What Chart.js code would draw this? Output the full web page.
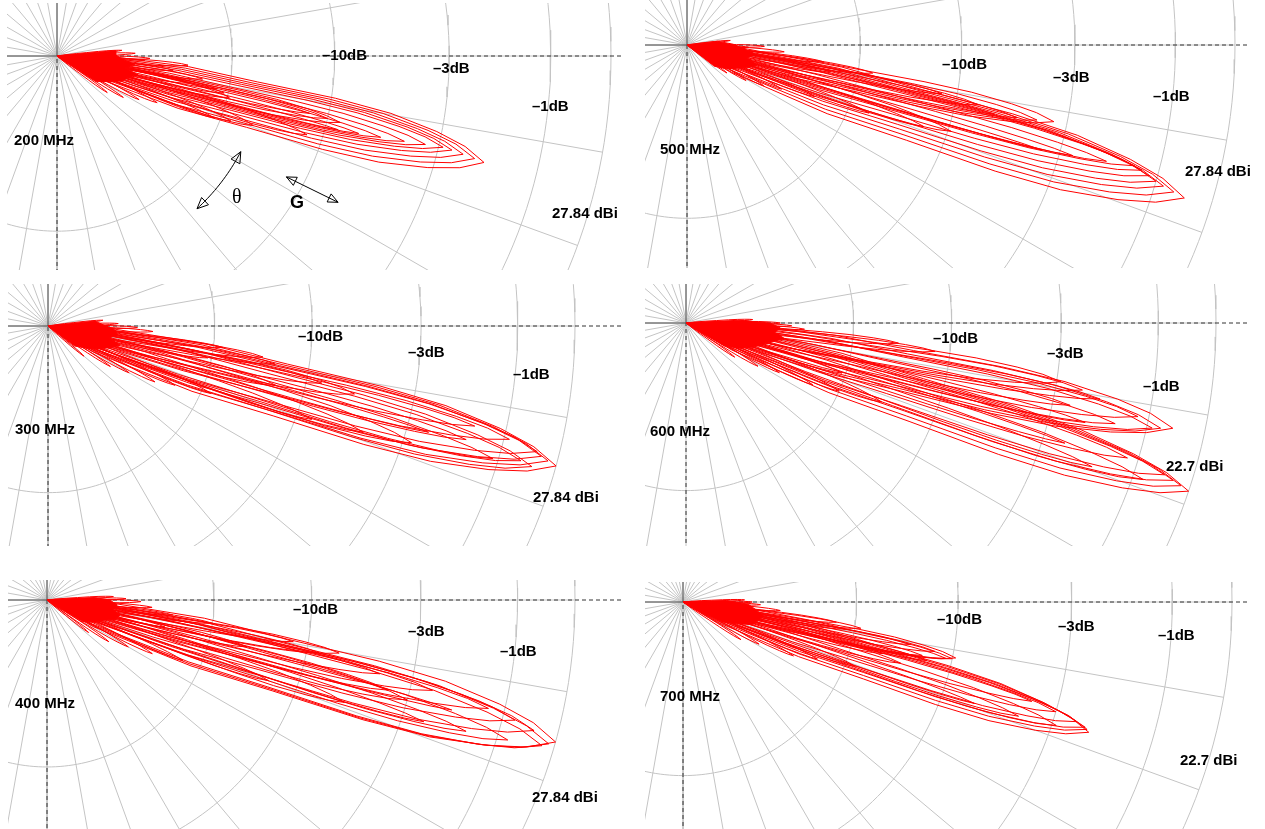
<!DOCTYPE html>
<html><head><meta charset="utf-8">
<script src="https://cdn.jsdelivr.net/npm/chart.js@4/dist/chart.umd.min.js"></script>
<style>
html,body{margin:0;padding:0;background:#fff;}
#wrap{position:relative;width:1265px;height:829px;overflow:hidden;background:#fff;}
#wrap canvas{position:absolute;}
.lbl{position:absolute;font-family:"Liberation Sans",Arial,sans-serif;font-weight:bold;font-size:15px;line-height:15px;color:#000;white-space:nowrap;}
.theta{position:absolute;font-family:"Liberation Serif","DejaVu Serif",serif;font-size:20px;line-height:20px;color:#000;}
.gsym{position:absolute;font-family:"Liberation Sans",Arial,sans-serif;font-weight:bold;font-size:18px;line-height:18px;color:#000;}
</style></head><body><div id="wrap"></div>
<script>
// ---------------- DATA ----------------
const frequencyLabels = ['200 MHz','500 MHz','300 MHz','600 MHz','400 MHz','700 MHz'];
const ringLevelsDb = [-10, -6, -3, -1, 0];
const ringLabelTexts = ['\u201310dB', '\u20133dB', '\u20131dB'];
const maxGainLabels = ['27.84 dBi','27.84 dBi','27.84 dBi','22.7 dBi','27.84 dBi','22.7 dBi'];
const spokeAnglesDeg = [0,10,20,30,40,50,60,70,80,90,100,110,120,130,140,150,160,170,180,190,200,210,220,230,240,250,260,270,280,290,300,310,320,330,340,350];

// lobe template: fraction of lobe peak vs. angular half width (deg, for width 1)
const lobeFrac = [0.1, 0.3, 0.46, 0.64, 0.77, 0.88, 0.95, 1.0];
const lobeHalfWidthDeg = [12, 7.5, 5.3, 4.3, 3.4, 2.2, 1.2, 0];

// per frequency: lobe direction (deg below horizon), peak (dB rel. outer ring), relative width
const lobes200Dir = [14.0,13.8,13.6,13.4,13.3,13.5,13.8,14.1,14.4,14.7, 13.2,13.0,12.8, 13.5,12.5,11.6, 19.5,20.5,21.5,17.5, 4.0,11.6,7.0,9.0, -5.0,-2.0,1.5,25.0,28.0,32.0,36.0,3.0];
const lobes200Db  = [-2.0,-2.2,-2.45,-2.7,-2.9,-3.3,-3.8,-4.4,-5.0,-5.6, -5.6,-6.0,-6.6, -9.9,-10.2,-10.6, -8.5,-9.5,-10.3,-6.5, -12.5,-12.3,-13.5,-11.5, -18.6,-17.0,-15.5,-14.0,-15.5,-17.0,-19.0,-16.0];
const lobes200W   = [1.25,1.12,1.0,0.88,0.76,0.64,0.52,0.4,0.28,0.16, 0.6,0.45,0.3, 0.55,0.4,0.3, 0.6,0.45,0.35,0.5, 0.4,0.5,0.4,0.4, 0.3,0.3,0.35,0.4,0.35,0.3,0.3,0.3];
// dense core near the feed (outline: angle deg, level dB)
const core200Ang = [-5.3, -1, 3, 6, 10, 13, 17, 21, 26, 33];
const core200Db  = [-19.5, -19.5, -18.5, -17.0, -18.0, -16.5, -17.5, -18.0, -19.5, -21.5];

const lobes500Dir = [17.1,16.8,16.5,16.2,15.8,15.4,15.1,15.5,16.0,16.5, 11.8,12.1,12.4,12.7, 11.6,10.8, 18.1,19.0,20.5, 8.6,10.7,7.0,25.0,22.0, -6.0,1.0,4.0,28.0,31.0,35.0,2.0];
const lobes500Db  = [-0.45,-0.65,-0.85,-1.0,-1.15,-1.3,-1.45,-2.0,-2.7,-3.4, -3.3,-3.7,-4.2,-4.8, -5.3,-6.5, -5.9,-6.8,-9.0, -9.3,-11.5,-12.0,-14.4,-12.0, -22.0,-17.0,-15.0,-16.0,-18.0,-21.0,-19.0];
const lobes500W   = [1.2,1.08,0.96,0.84,0.72,0.6,0.48,0.36,0.24,0.12, 0.7,0.55,0.4,0.25, 0.45,0.35, 0.5,0.4,0.35, 0.45,0.4,0.35,0.4,0.4, 0.3,0.35,0.35,0.35,0.3,0.3,0.3];
const core500Ang = [-7, -1, 4, 8, 12, 16, 20, 25, 31, 38];
const core500Db  = [-25, -21.5, -19.5, -18.0, -19.0, -17.5, -18.5, -20.0, -21.5, -24.0];

const lobes300Dir = [15.4,15.1,14.8,14.4,16.2,15.9,13.8,16.6,15.2,13.2,15.6, 17.8,18.6,19.5, 14.6,12.5,11.8, 8.2,9.5,11.3,7.0, 27.6,25.0,22.5, -6.0,1.0,3.0,30.0,33.0,40.0,-2.0];
const lobes300Db  = [0,-0.15,-0.28,-0.37,-0.39,-0.6,-0.9,-1.1,-1.7,-1.6,-2.5, -2.8,-4.0,-5.5, -7.0,-4.5,-5.5, -7.7,-7.2,-10.2,-9.5, -12.8,-11.5,-9.5, -19.6,-15.4,-14.0,-15.0,-17.0,-21.0,-17.5];
const lobes300W   = [1.2,1.08,0.96,0.84,0.9,0.7,0.6,0.5,0.38,0.4,0.2, 0.6,0.5,0.4, 0.5,0.6,0.45, 0.45,0.4,0.4,0.35, 0.35,0.4,0.4, 0.3,0.35,0.35,0.35,0.3,0.3,0.3];
const core300Ang = [-6, -1, 3, 7, 11, 15, 19, 24, 30, 37];
const core300Db  = [-21.0, -19.5, -18.0, -17.5, -18.5, -17.0, -18.0, -19.5, -21.5, -24.0];

const lobes600Dir = [18.5,18.2,17.9,17.6,18.9,17.0,19.5,17.6, 12.2,12.5,12.7,11.7,13.2,12.1,14.0, 8.9,9.6,10.4, 5.4,6.5,17.8,22.0,24.0,26.0, 0.0,-3.0,3.0,28.0,31.0,35.0,1.5];
const lobes600Db  = [0,-0.15,-0.3,-0.47,-0.8,-1.2,-1.8,-2.5, -0.54,-0.75,-0.9,-1.2,-1.6,-2.6,-2.2, -2.9,-2.4,-2.0, -7.9,-6.5,-10.2,-8.0,-10.0,-11.5, -15.0,-18.0,-13.0,-14.0,-16.0,-19.0,-14.0];
const lobes600W   = [1.0,0.88,0.76,0.64,0.55,0.45,0.35,0.22, 1.0,0.86,0.72,0.6,0.48,0.36,0.3, 0.6,0.5,0.4, 0.4,0.4,0.4,0.5,0.4,0.35, 0.35,0.3,0.35,0.35,0.35,0.3,0.3];
const core600Ang = [-3, 0, 3, 6, 9, 12, 16, 20, 25, 31];
const core600Db  = [-20.0, -16.0, -15.0, -15.5, -14.5, -15.5, -16.5, -17.5, -19.0, -21.5];

const lobes400Dir = [15.6,16.0,16.4,15.0,14.4,16.9,13.8,17.4,17.9,15.2, 15.5,14.8,13.2,12.5, 10.3,11.0,9.6,13.2,12.9,6.8,8.0, 19.0,20.0,24.0,27.0, -3.0,1.0,4.0,30.0,34.0,38.0,-1.0];
const lobes400Db  = [0,-0.1,-0.2,-0.4,-0.77,-0.8,-1.3,-1.6,-2.5,-2.0, -3.0,-3.5,-2.5,-3.8, -5.0,-5.6,-6.5,-8.2,-12.8,-12.4,-10.0, -4.5,-7.0,-11.0,-13.0, -18.0,-15.0,-14.0,-15.0,-17.0,-20.0,-16.5];
const lobes400W   = [1.2,1.08,0.96,0.84,0.72,0.62,0.52,0.42,0.32,0.2, 0.5,0.4,0.5,0.4, 0.5,0.4,0.35,0.4,0.35,0.35,0.35, 0.5,0.4,0.35,0.35, 0.3,0.35,0.35,0.35,0.3,0.3,0.3];
const core400Ang = [-3, 0, 4, 8, 12, 16, 20, 25, 31];
const core400Db  = [-21.0, -18.5, -17.5, -18.0, -17.0, -17.5, -19.0, -20.0, -22.0];

const lobes700Dir = [17.8,17.5,17.3,16.9,18.3,16.4,18.8,15.9,19.2, 11.6,11.9,12.1,11.1,12.6,13.5,10.6, 15.7,14.5, 8.4,7.5,9.5,20.5,23.0,26.0, 2.0,-2.0,5.0,29.0,33.0,0.0];
const lobes700Db  = [-2.2,-2.25,-2.3,-2.5,-2.9,-3.0,-3.8,-3.6,-5.0, -5.9,-6.0,-6.2,-6.6,-7.0,-6.8,-7.5, -7.7,-8.5, -9.7,-11.0,-10.5,-9.5,-11.5,-13.0, -17.0,-19.0,-15.0,-16.0,-18.0,-18.0];
const lobes700W   = [1.0,0.88,0.76,0.64,0.55,0.48,0.4,0.32,0.24, 0.65,0.52,0.42,0.4,0.35,0.3,0.3, 0.4,0.35, 0.4,0.35,0.35,0.4,0.35,0.35, 0.3,0.3,0.35,0.35,0.3,0.3];
const core700Ang = [-2, 2, 6, 10, 14, 18, 22, 27];
const core700Db  = [-22.0, -18.5, -17.5, -16.5, -17.0, -17.5, -19.5, -22.0];

// ---------------- LAYOUT ----------------
const panels = [
 {left:7,  top:3,   right:630,  bottom:270, ox:57,  oy:56,  R:554, lobes:[lobes200Dir,lobes200Db,lobes200W], core:[core200Ang,core200Db],
  freqPos:[14,132], ringPos:[[322,47],[433,60],[532,98]], gainPos:[552,205], annot:true},
 {left:645,top:0,   right:1256, bottom:268, ox:687, oy:45,  R:548, lobes:[lobes500Dir,lobes500Db,lobes500W], core:[core500Ang,core500Db],
  freqPos:[660,141], ringPos:[[942,56],[1053,69],[1153,88]], gainPos:[1185,163]},
 {left:8,  top:284, right:630,  bottom:546, ox:48,  oy:326, R:527, lobes:[lobes300Dir,lobes300Db,lobes300W], core:[core300Ang,core300Db],
  freqPos:[15,421], ringPos:[[298,328],[408,344],[513,366]], gainPos:[533,489]},
 {left:645,top:284, right:1256, bottom:546, ox:686, oy:323, R:530, lobes:[lobes600Dir,lobes600Db,lobes600W], core:[core600Ang,core600Db],
  freqPos:[650,423], ringPos:[[933,330],[1047,345],[1143,378]], gainPos:[1166,458]},
 {left:8,  top:580, right:630,  bottom:829, ox:47,  oy:600, R:528, lobes:[lobes400Dir,lobes400Db,lobes400W], core:[core400Ang,core400Db],
  freqPos:[15,695], ringPos:[[293,601],[408,623],[500,643]], gainPos:[532,789]},
 {left:645,top:582, right:1256, bottom:829, ox:683, oy:602, R:549, lobes:[lobes700Dir,lobes700Db,lobes700W], core:[core700Ang,core700Db],
  freqPos:[660,688], ringPos:[[937,611],[1058,618],[1158,627]], gainPos:[1180,752]}
];

const GRID = '#c4c4c4', RED = '#ff0000', AX = '#4a4a4a';
const wrap = document.getElementById('wrap');

function pol(angDeg, a){ const t = angDeg*Math.PI/180; return {x: a*Math.cos(t), y: -a*Math.sin(t)}; }
function amp(db){ return Math.pow(10, db/20); }

function lobePolygon(dir, db, w){
  const pk = amp(db);
  const pts = [{x:0,y:0}];
  for (let i=0;i<lobeFrac.length;i++) pts.push(pol(dir - lobeHalfWidthDeg[i]*w, lobeFrac[i]*pk));
  for (let i=lobeFrac.length-2;i>=0;i--) pts.push(pol(dir + lobeHalfWidthDeg[i]*w, lobeFrac[i]*pk));
  pts.push({x:0,y:0});
  return pts;
}

function lineDs(data, color, width, order, dash){
  return {data, showLine:true, borderColor:color, borderWidth:width, pointRadius:0, fill:false,
          tension:0, order, borderDash: dash||[], spanGaps:false};
}

function arrowHead(tip, from, size){
  const dx = tip.x-from.x, dy = tip.y-from.y, L = Math.hypot(dx,dy);
  const ux = dx/L, uy = dy/L, px = -uy, py = ux;
  const b = {x: tip.x-ux*size, y: tip.y-uy*size};
  return [ {x:b.x+px*size*0.45, y:b.y+py*size*0.45}, tip, {x:b.x-px*size*0.45, y:b.y-py*size*0.45},
           {x:b.x+px*size*0.45, y:b.y+py*size*0.45} ];
}

panels.forEach((p, k) => {
  const W = p.right - p.left, H = p.bottom - p.top;
  const cx = p.ox - p.left, cy = p.oy - p.top;
  const cv = document.createElement('canvas');
  cv.width = W; cv.height = H;
  cv.style.left = p.left+'px'; cv.style.top = p.top+'px';
  cv.style.width = W+'px'; cv.style.height = H+'px';
  wrap.appendChild(cv);

  const ds = [];
  ringLevelsDb.forEach(lv => {
    const pts = [];
    for (let a=0;a<=360;a+=1.5) pts.push(pol(a, amp(lv)));
    ds.push(lineDs(pts, GRID, 1, 20));
  });
  const sp = [];
  spokeAnglesDeg.forEach(a => { sp.push({x:0,y:0}); sp.push(pol(a,1)); sp.push({x:NaN,y:NaN}); });
  ds.push(lineDs(sp, GRID, 1, 20));
  ds.push(lineDs([pol(180, cx/p.R+0.05), {x:0,y:0}, pol(-90, cy/p.R+0.05)], AX, 1, 15));
  ds.push(lineDs([{x:(W-cx-9)/p.R, y:0}, {x:0,y:0}, pol(90, (H-cy)/p.R+0.05)], '#333', 1, 15, [4,3]));
  const [dirs, dbs, ws] = p.lobes;
  dirs.forEach((d, i) => ds.push(lineDs(lobePolygon(d, dbs[i], ws[i]), RED, 1, 1)));
  const [cA, cD] = p.core;
  const core = [{x:0,y:0}];
  cA.forEach((a, i) => core.push(pol(a, amp(cD[i]))));
  core.push({x:0,y:0});
  const cds = lineDs(core, RED, 1, 1);
  cds.fill = 'shape'; cds.backgroundColor = RED;
  ds.push(cds);
  if (p.annot){
    const arc = [];
    for (let a=27.5;a<=47.5;a+=1) arc.push(pol(a, 0.374));
    ds.push(lineDs(arc, '#000', 1, 2));
    ds.push(lineDs(arrowHead(arc[0], arc[2], 0.02), '#000', 1, 2));
    ds.push(lineDs(arrowHead(arc[arc.length-1], arc[arc.length-3], 0.02), '#000', 1, 2));
    const g1 = pol(27.8, 0.468), g2 = pol(27.5, 0.572);
    ds.push(lineDs([g1, g2], '#000', 1, 2));
    ds.push(lineDs(arrowHead(g1, g2, 0.018), '#000', 1, 2));
    ds.push(lineDs(arrowHead(g2, g1, 0.018), '#000', 1, 2));
  }

  new Chart(cv, {
    type:'scatter',
    data:{datasets:ds},
    options:{
      responsive:false, animation:false, events:[],
      layout:{padding:0},
      plugins:{legend:{display:false}, tooltip:{enabled:false}, filler:{propagate:false}},
      scales:{
        x:{type:'linear', display:false, min:-cx/p.R, max:(W-cx)/p.R},
        y:{type:'linear', display:false, min:-(H-cy)/p.R, max:cy/p.R}
      }
    }
  });

  const mk = (txt, pos, cls) => { const d = document.createElement('div'); d.className = cls||'lbl';
    d.textContent = txt; d.style.left = pos[0]+'px'; d.style.top = pos[1]+'px'; wrap.appendChild(d); };
  mk(frequencyLabels[k], p.freqPos);
  ringLabelTexts.forEach((t, j) => mk(t, p.ringPos[j]));
  mk(maxGainLabels[k], p.gainPos);
  if (p.annot){ mk('\u03b8', [232,186], 'theta'); mk('G', [290,193], 'gsym'); }
});
</script></body></html>
